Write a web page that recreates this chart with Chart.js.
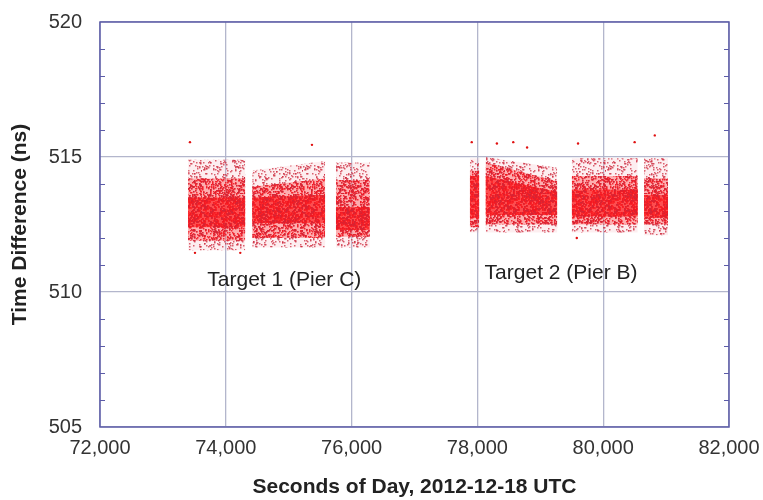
<!DOCTYPE html>
<html>
<head>
<meta charset="utf-8">
<script src="https://cdn.jsdelivr.net/npm/chart.js@4.4.1/dist/chart.umd.min.js"></script>
<style>
html,body{margin:0;padding:0;background:#fff}
</style>
</head>
<body>
<canvas id="myChart" width="763" height="500"></canvas>
<script>
// measurement segments (seconds of day)
let segStart = [73400, 74420, 75750, 77880, 78130, 79500, 80650];
let segEnd   = [74310, 75580, 76290, 78030, 79270, 80550, 81030];

// spread of the time difference in each segment (ns)
let sparseTopL = [514.9, 514.5, 514.8, 514.95, 515.0, 514.95, 514.95];
let sparseTopR = [514.9, 514.85, 514.8, 514.95, 514.6, 514.95, 514.95];
let midTopL    = [514.2, 513.9, 514.15, 514.5, 514.8, 514.3, 514.2];
let midTopR    = [514.2, 514.2, 514.15, 514.5, 514.1, 514.3, 514.2];
let coreTopL   = [513.5, 513.5, 513.15, 514.3, 514.3, 513.8, 513.6];
let coreTopR   = [513.5, 513.6, 513.15, 514.3, 513.7, 513.8, 513.6];
let coreBot    = [512.4, 512.55, 512.3, 512.75, 512.85, 512.8, 512.75];
let midBot     = [511.9, 512.0, 512.05, 512.4, 512.5, 512.5, 512.5];
let sparseBot  = [511.55, 511.65, 511.65, 512.2, 512.2, 512.2, 512.1];

// stray points outside the bands
let outlierX = [73430, 75370, 77910, 78310, 78570, 78790, 79600, 80500, 80820, 73510, 74230, 79580];
let outlierY = [515.55, 515.45, 515.55, 515.5, 515.55, 515.35, 515.5, 515.55, 515.8, 511.45, 511.45, 512.0];

let targetNames = ["Target 1 (Pier C)", "Target 2 (Pier B)"];
let targetX = [74930, 79330];
let targetY = [510.45, 510.7];

let myChart = document.getElementById("myChart").getContext("2d");

// speckled texture so the bands look like a dense cloud of dots
function hash(n) {
    let s = Math.sin(n * 12.9898) * 43758.5453;
    return s - Math.floor(s);
}
function speckle(base, dot, count, size) {
    let w = 101, h = 97;
    let p = document.createElement("canvas");
    p.width = w; p.height = h;
    let g = p.getContext("2d");
    g.fillStyle = base;
    g.fillRect(0, 0, w, h);
    g.fillStyle = dot;
    for (let k = 1; k <= count; k++) {
        g.fillRect(Math.floor(hash(k) * w), Math.floor(hash(k + 7919.5) * h), size, size);
    }
    return myChart.createPattern(p, "repeat");
}

let layers = [
    {lo: sparseBot, hiL: sparseTopL, hiR: sparseTopR, color: speckle("rgba(240,150,160,0.16)", "rgba(205,40,60,0.72)", 1200, 1.5)},
    {lo: midBot, hiL: midTopL, hiR: midTopR, color: speckle("rgba(255,60,60,0.4)", "rgba(240,0,10,0.88)", 3200, 1.5)},
    {lo: coreBot, hiL: coreTopL, hiR: coreTopR, color: speckle("rgba(255,20,20,0.8)", "#ff0000", 3800, 2)}
];

let datasets = [];
for (let i = 0; i < segStart.length; i++) {
    layers.forEach(function(l){
        datasets.push({
            data: [{x: segStart[i], y: l.lo[i]}, {x: segEnd[i], y: l.lo[i]}],
            showLine: true, pointRadius: 0, borderColor: "transparent", fill: false
        });
        datasets.push({
            data: [{x: segStart[i], y: l.hiL[i]}, {x: segEnd[i], y: l.hiR[i]}],
            showLine: true, pointRadius: 0, borderColor: "transparent",
            fill: "-1", backgroundColor: l.color
        });
    });
}
datasets.push({
    data: outlierX.map(function(x, i){ return {x: x, y: outlierY[i]}; }),
    pointRadius: 1.2, backgroundColor: "#e01010", borderWidth: 0
});

let frameColor = "#5c5ca8";
let gridColor = "#b3b6cc";
let fontFam = "'Liberation Sans', Arial, sans-serif";

let framePlugin = {
    id: "frame",
    afterDraw: function(chart){
        let c = chart.ctx, a = chart.chartArea, ys = chart.scales.y, xs = chart.scales.x;
        c.save();
        c.strokeStyle = frameColor;
        c.lineWidth = 1.5;
        c.strokeRect(a.left, a.top, a.right - a.left, a.bottom - a.top);
        c.lineWidth = 1;
        for (let v = 506; v < 520; v++) {
            if (v % 5 === 0) continue;
            let y = Math.round(ys.getPixelForValue(v)) + 0.5;
            c.beginPath();
            c.moveTo(a.left, y); c.lineTo(a.left + 5, y);
            c.moveTo(a.right, y); c.lineTo(a.right - 5, y);
            c.stroke();
        }
        c.fillStyle = "#222";
        c.font = "21px " + fontFam;
        c.textAlign = "center";
        c.textBaseline = "middle";
        targetNames.forEach(function(t, i){
            c.fillText(t, xs.getPixelForValue(targetX[i]), ys.getPixelForValue(targetY[i]));
        });
        c.restore();
    }
};

let tdChart = new Chart(myChart, {
    type: "scatter",
    data: {datasets: datasets},
    plugins: [framePlugin],
    options: {
        responsive: false,
        animation: false,
        layout: {padding: {top: 22, right: 34, left: 0, bottom: 0}},
        plugins: {legend: {display: false}, tooltip: {enabled: false}},
        scales: {
            x: {
                type: "linear", min: 72000, max: 82000, z: 1,
                afterFit: function(s){ s.height = 73; s.paddingLeft = 0; s.paddingRight = 0; },
                ticks: {
                    stepSize: 2000, padding: 9, color: "#333",
                    font: {size: 20, family: fontFam},
                    callback: function(v){ return v.toLocaleString("en-US"); }
                },
                grid: {color: gridColor, lineWidth: 1.3, drawTicks: false},
                border: {display: false},
                title: {
                    display: true, text: "Seconds of Day, 2012-12-18 UTC", color: "#222",
                    font: {size: 21, weight: "bold", family: fontFam},
                    padding: {top: 0, bottom: 0}
                }
            },
            y: {
                min: 505, max: 520, z: 1,
                afterFit: function(s){ s.width = 100; s.paddingTop = 0; s.paddingBottom = 0; },
                ticks: {
                    stepSize: 5, padding: 18, color: "#333",
                    font: {size: 20, family: fontFam}
                },
                grid: {color: gridColor, lineWidth: 1.3, drawTicks: false},
                border: {display: false},
                title: {
                    display: true, text: "Time Difference (ns)", color: "#222",
                    font: {size: 21, weight: "bold", family: fontFam},
                    padding: {top: 8, bottom: 0}
                }
            }
        }
    }
});
</script>
</body>
</html>
